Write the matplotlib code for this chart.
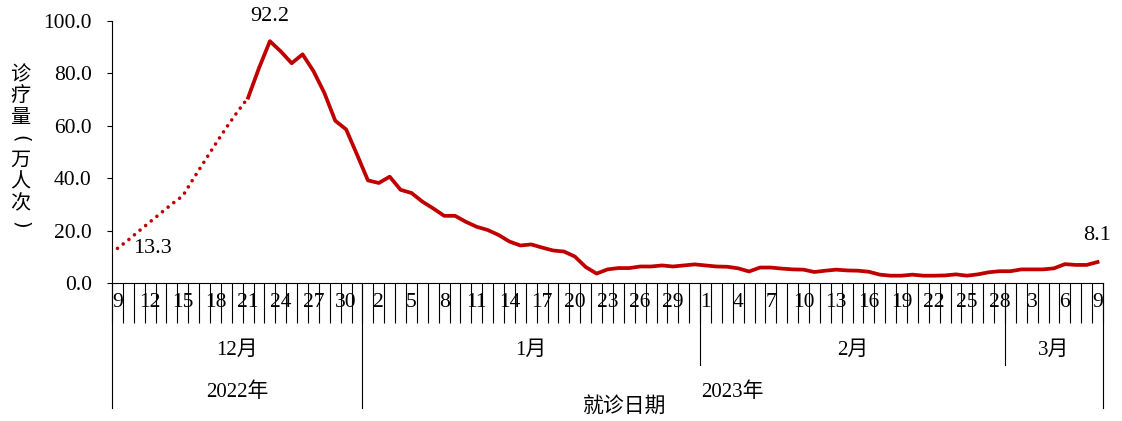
import numpy as np
import matplotlib as mpl
mpl.use("Agg")
import matplotlib.pyplot as plt
import matplotlib.transforms as mtransforms

mpl.rcParams['font.family'] = ['Liberation Serif', 'Noto Sans CJK SC']
mpl.rcParams['font.size'] = 15

# daily visits (10k person-times), 2022-12-09 .. 2023-03-09
months = ['12月', '1月', '2月', '3月']
month_days = [list(range(9, 32)), list(range(1, 32)), list(range(1, 29)), list(range(1, 10))]
years = ['2022年', '2023年']
months_per_year = [1, 3]

visits = [
    # Dec
    13.3, 16.5, 20.0, 23.4, 26.8, 30.2, 33.3, 40.0, 46.5, 53.0, 59.3, 65.2, 70.7,
    82.0, 92.2, 88.3, 83.8, 87.2, 80.8, 72.5, 61.9, 58.6, 49.0,
    # Jan
    39.2, 38.2, 40.6, 35.6, 34.4, 31.1, 28.5, 25.7, 25.7, 23.4, 21.5, 20.3, 18.4,
    15.9, 14.4, 14.8, 13.6, 12.5, 12.1, 10.2, 6.2, 3.7, 5.3, 5.8, 5.8, 6.4, 6.4,
    6.8, 6.4, 6.8, 7.2,
    # Feb
    6.8, 6.4, 6.3, 5.7, 4.5, 6.0, 6.0, 5.6, 5.3, 5.2, 4.3, 4.8, 5.2, 4.9, 4.8,
    4.4, 3.3, 2.9, 2.9, 3.3, 2.9, 2.9, 3.0, 3.4, 2.9, 3.4, 4.2, 4.6,
    # Mar
    4.6, 5.3, 5.3, 5.3, 5.7, 7.3, 7.0, 7.0, 8.1,
]
n_dotted = 13          # Dec 9 .. Dec 21 drawn dotted
labels_shown = {0: 13.3, 14: 92.2, 90: 8.1}
ylabel = '诊疗量（万人次）'

red = '#C00000'
days = [d for m in month_days for d in m]
n = len(days)
x = np.arange(n)
v = np.array(visits)

fig = plt.figure(figsize=(11.22, 4.21), dpi=100)
ax = fig.add_axes([112/1122, 1 - 283.3/421, (1103 - 112)/1122, (283.3 - 20.7)/421])

ax.plot(x[:n_dotted], v[:n_dotted], lw=2.6, color=red, dashes=[0.01, 2.0],
        dash_capstyle='round')
ax.plot(x[n_dotted - 1:], v[n_dotted - 1:], lw=2.7, color=red, solid_joinstyle='round')

ax.set_ylim(0, 100)
ax.set_xlim(-0.5, n - 0.5)
ax.set_yticks(np.arange(0, 101, 20))
ax.set_yticklabels(['%.1f' % t for t in np.arange(0, 101, 20)])
ax.tick_params(axis='y', direction='out', length=3.6, width=0.8, pad=11, labelsize=15.5)
for s in ['top', 'right']:
    ax.spines[s].set_visible(False)
for s in ['left', 'bottom']:
    ax.spines[s].set_linewidth(0.8)

# day ticks between categories, labels every 3 days
ax.set_xticks(np.arange(-0.5, n, 1), minor=True)
ax.tick_params(axis='x', which='minor', direction='out', length=28.5, width=0.8)
shown = x[::3]
ax.set_xticks(shown)
ax.set_xticklabels([str(days[i]) for i in shown])
ax.tick_params(axis='x', which='major', length=0, pad=7, labelsize=15.5)

trans = mtransforms.blended_transform_factory(ax.transData, ax.transAxes)
h = 283.3 - 20.7
y_month = -(365 - 283.3) / h
y_year = -(408 - 283.3) / h

counts = [len(m) for m in month_days]
edges = np.concatenate([[0], np.cumsum(counts)]) - 0.5
year_edges = edges[np.concatenate([[0], np.cumsum(months_per_year)])]
for e in edges:
    bottom = y_year if e in year_edges else y_month
    ax.plot([e, e], [0, bottom], transform=trans, color='black', lw=0.8, clip_on=False)

for i, m in enumerate(months):
    ax.text((edges[i] + edges[i + 1]) / 2, -(350 - 283.3) / h, m, transform=trans,
            ha='center', va='center', fontsize=15)
for i, yname in enumerate(years):
    ax.text((year_edges[i] + year_edges[i + 1]) / 2, -(392 - 283.3) / h, yname, transform=trans,
            ha='center', va='center', fontsize=15)

fig.text(625/1122, 1 - 406/421, '就诊日期', ha='center', va='center',
         fontsize=15, family='Noto Sans CJK SC')

# vertical y label, one character per line, brackets turned
for k, ch in enumerate(ylabel):
    ypix = 75 + 21.4 * k
    if ch in '（）':
        ch = '(' if ch == '（' else ')'
        fig.text(20/1122, 1 - ypix/421, ch, ha='center', va='center', rotation=-90,
                 rotation_mode='anchor', fontsize=14, family='DejaVu Sans')
    else:
        fig.text(20/1122, 1 - ypix/421, ch, ha='center', va='center',
                 fontsize=14.5, family='Noto Sans CJK SC')

offsets = {0: (25, 0), 14: (0, 18), 90: (0, 19)}
for i, val in labels_shown.items():
    ax.annotate('%.1f' % val, (i, val), xytext=offsets[i], textcoords='offset points',
                ha='center', va='center', fontsize=16)

fig.savefig('out.png', dpi=100)
